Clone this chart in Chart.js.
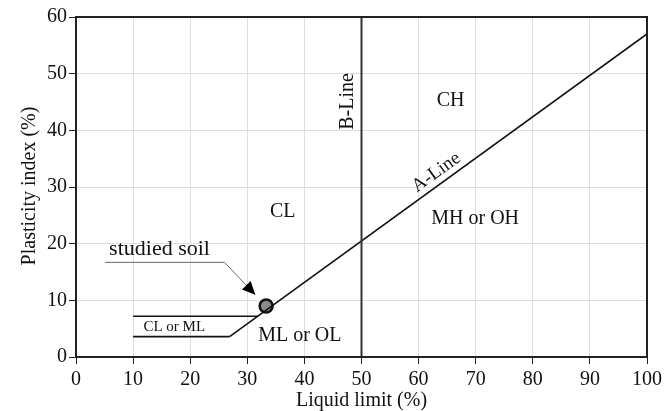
<!DOCTYPE html>
<html>
<head>
<meta charset="utf-8">
<script src="https://cdn.jsdelivr.net/npm/chart.js@4"></script>
<style>
  html, body { margin:0; padding:0; background:#fff; }
  #wrap { width:666px; height:411px; }
</style>
</head>
<body>
<div id="wrap"><canvas id="chart"></canvas></div>
<script>
// data
const xTicks = [0,10,20,30,40,50,60,70,80,90,100];
const yTicks = [0,10,20,30,40,50,60];

const aLine   = [{x:26.9,y:3.6},{x:100,y:57}];
const bLine   = [{x:50,y:0},{x:50,y:60}];
const bandTop = [{x:10,y:7.2},{x:31.9,y:7.2}];
const bandBot = [{x:10,y:3.6},{x:26.9,y:3.6}];
const studiedSoil = [{x:33.3,y:9.0}];
const arrowPath = [{x:5.1,y:16.7},{x:26.0,y:16.7},{x:31.4,y:11.0}];

const zoneNames = ["CL","CH","MH or OH","ML or OL"];
const zoneLL    = [36.2,65.6,69.9,39.2];
const zonePI    = [25.6,45.3,24.4,3.7];

const FONT = '"Liberation Serif","Times New Roman",serif';

// extra drawing: frame, labels, arrow head
const annotate = {
  id:"annotate",
  afterDatasetsDraw(chart){
    const {ctx, chartArea:ca, scales:{x, y}} = chart;
    ctx.save();
    ctx.strokeStyle = "#222";
    ctx.lineWidth = 2;
    ctx.strokeRect(ca.left, ca.top, ca.right-ca.left, ca.bottom-ca.top);

    ctx.fillStyle = "#111";
    ctx.textAlign = "center";
    ctx.textBaseline = "middle";
    ctx.font = "20px " + FONT;
    zoneNames.forEach((t,i)=>{
      ctx.fillText(t, x.getPixelForValue(zoneLL[i]), y.getPixelForValue(zonePI[i]));
    });

    ctx.font = "15px " + FONT;
    ctx.fillText("CL or ML", x.getPixelForValue(17.2), y.getPixelForValue(5.3));

    ctx.font = "22px " + FONT;
    ctx.textAlign = "left";
    ctx.textBaseline = "alphabetic";
    ctx.fillText("studied soil", x.getPixelForValue(5.8), y.getPixelForValue(16.7)-7);

    // A-Line label along the line
    const ax0 = x.getPixelForValue(aLine[0].x), ay0 = y.getPixelForValue(aLine[0].y);
    const ax1 = x.getPixelForValue(aLine[1].x), ay1 = y.getPixelForValue(aLine[1].y);
    const ang = Math.atan2(ay1-ay0, ax1-ax0);
    const llA = 64.3, piA = aLine[0].y + (llA-aLine[0].x)*(aLine[1].y-aLine[0].y)/(aLine[1].x-aLine[0].x);
    ctx.save();
    ctx.translate(x.getPixelForValue(llA), y.getPixelForValue(piA));
    ctx.rotate(ang);
    ctx.font = "19px " + FONT;
    ctx.textAlign = "center";
    ctx.textBaseline = "bottom";
    ctx.fillText("A-Line", 0, -2);
    ctx.restore();

    // B-Line label
    ctx.save();
    ctx.translate(x.getPixelForValue(50)-4, y.getPixelForValue(45.1));
    ctx.rotate(-Math.PI/2);
    ctx.font = "20px " + FONT;
    ctx.textAlign = "center";
    ctx.textBaseline = "bottom";
    ctx.fillText("B-Line", 0, 0);
    ctx.restore();

    // arrow head
    const n = arrowPath.length;
    const px = x.getPixelForValue(arrowPath[n-1].x), py = y.getPixelForValue(arrowPath[n-1].y);
    const qx = x.getPixelForValue(arrowPath[n-2].x), qy = y.getPixelForValue(arrowPath[n-2].y);
    const a = Math.atan2(py-qy, px-qx);
    const L = 13, W = 6;
    ctx.fillStyle = "#000";
    ctx.beginPath();
    ctx.moveTo(px, py);
    ctx.lineTo(px - L*Math.cos(a) + W*Math.sin(a), py - L*Math.sin(a) - W*Math.cos(a));
    ctx.lineTo(px - L*Math.cos(a) - W*Math.sin(a), py - L*Math.sin(a) + W*Math.cos(a));
    ctx.closePath();
    ctx.fill();

    // axis titles
    ctx.fillStyle = "#111";
    ctx.font = "20px " + FONT;
    ctx.textAlign = "center";
    ctx.textBaseline = "middle";
    ctx.fillText("Liquid limit (%)", (ca.left+ca.right)/2, 401);
    ctx.save();
    ctx.translate(30, 186);
    ctx.rotate(-Math.PI/2);
    ctx.fillText("Plasticity index (%)", 0, 0);
    ctx.restore();
    ctx.restore();
  }
};

const lineDs = (data, color, width) => ({
  type:"line", data, borderColor:color, borderWidth:width,
  pointRadius:0, fill:false, tension:0, showLine:true
});

new Chart(document.getElementById("chart"), {
  type:"scatter",
  data:{
    datasets:[
      lineDs(bLine, "#333", 2),
      lineDs(aLine, "#111", 1.6),
      lineDs(bandTop, "#111", 1.6),
      lineDs(bandBot, "#111", 1.6),
      lineDs(arrowPath, "#666", 1),
      {
        data:studiedSoil, pointRadius:6.5, pointBackgroundColor:"#8a8a8a",
        pointBorderColor:"#111", pointBorderWidth:2.5
      }
    ]
  },
  options:{
    responsive:true,
    maintainAspectRatio:false,
    animation:false,
    events:[],
    layout:{ padding:{ top:17, right:18, left:0, bottom:0 } },
    plugins:{ legend:{display:false}, tooltip:{enabled:false} },
    scales:{
      x:{
        type:"linear", min:0, max:100,
        afterBuildTicks:s=>{ s.ticks = xTicks.map(v=>({value:v})); },
        afterFit:s=>{ s.height = 54; },
        grid:{ color:"#dedede", lineWidth:1, tickLength:7, tickColor:"#222" },
        border:{ color:"#222", width:2 },
        ticks:{ color:"#111", font:{ family:FONT, size:20 }, padding:4, maxRotation:0 }
      },
      y:{
        type:"linear", min:0, max:60,
        afterBuildTicks:s=>{ s.ticks = yTicks.map(v=>({value:v})); },
        afterFit:s=>{ s.width = 76; },
        grid:{ color:"#dedede", lineWidth:1, tickLength:7, tickColor:"#222" },
        border:{ color:"#222", width:2 },
        ticks:{ color:"#111", font:{ family:FONT, size:20 }, padding:2 }
      }
    }
  },
  plugins:[annotate]
});
</script>
</body>
</html>
